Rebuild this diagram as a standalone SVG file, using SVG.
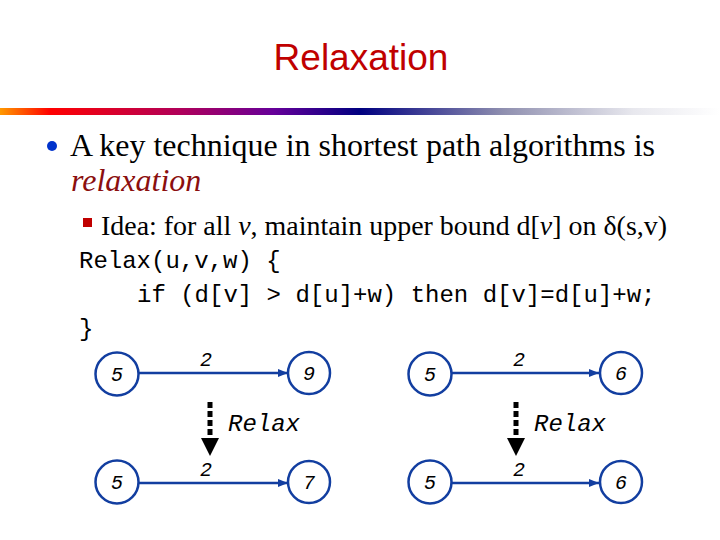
<svg xmlns="http://www.w3.org/2000/svg" width="720" height="540" viewBox="0 0 720 540">
<defs>
<linearGradient id="bar" x1="0" y1="0" x2="1" y2="0">
<stop offset="0" stop-color="#ff9900"/>
<stop offset="0.07" stop-color="#ff0000"/>
<stop offset="0.25" stop-color="#b0005a"/>
<stop offset="0.38" stop-color="#660099"/>
<stop offset="0.5" stop-color="#000080"/>
<stop offset="0.7" stop-color="#9090b0"/>
<stop offset="0.88" stop-color="#e8e8ee"/>
<stop offset="1" stop-color="#ffffff"/>
</linearGradient>
<marker id="ah" viewBox="0 0 10 10" refX="10" refY="5" markerWidth="4" markerHeight="4" orient="auto" markerUnits="strokeWidth">
<path d="M0,1 L10,5 L0,9 z" fill="#123ea0"/>
</marker>
</defs>
<style>
.node circle{fill:#fff;stroke:#123ea0;stroke-width:2.5}
.node text,.lbl{font-family:"Liberation Mono",monospace;font-style:italic;font-size:20px;fill:#000;text-anchor:middle}
.edge{stroke:#123ea0;stroke-width:2.5;fill:none;marker-end:url(#ah)}
.relax{font-family:"Liberation Mono",monospace;font-style:italic;font-size:24px;fill:#000}
.dash{stroke:#000;stroke-width:5;stroke-dasharray:6,3}
.code{font-family:"Liberation Mono",monospace;font-size:24px;fill:#000}
.tm{font-family:"Liberation Serif",serif;fill:#000}
</style>
<rect width="720" height="540" fill="#fff"/>
<text x="361" y="70" font-family="Liberation Sans,Arial,sans-serif" font-size="37" fill="#c00000" text-anchor="middle">Relaxation</text>
<rect x="0" y="108" width="720" height="7" fill="url(#bar)"/>
<circle cx="52" cy="146" r="5" fill="#0033cc"/>
<text class="tm" x="70" y="156" font-size="32" textLength="585" lengthAdjust="spacingAndGlyphs">A key technique in shortest path algorithms is</text>
<text class="tm" x="71" y="191" font-size="32" font-style="italic" style="fill:#8b0f0f">relaxation</text>
<rect x="83" y="218" width="9" height="9" fill="#c00000"/>
<text class="tm" x="101" y="235" font-size="28" textLength="566" lengthAdjust="spacingAndGlyphs">Idea: for all <tspan font-style="italic">v</tspan>, maintain upper bound d[<tspan font-style="italic">v</tspan>] on δ(s,v)</text>
<text class="code" x="79" y="268">Relax(u,v,w) {</text>
<text class="code" x="137" y="302">if (d[v] &gt; d[u]+w) then d[v]=d[u]+w;</text>
<text class="code" x="79" y="336">}</text>
<g id="connectors">
<line class="edge" x1="139" y1="373" x2="288" y2="373"/>
<line class="edge" x1="452" y1="373" x2="599" y2="373"/>
<line class="edge" x1="139" y1="483" x2="288" y2="483"/>
<line class="edge" x1="452" y1="483" x2="599" y2="483"/>
<text class="lbl" x="206" y="366">2</text>
<text class="lbl" x="519" y="366">2</text>
<text class="lbl" x="206" y="476">2</text>
<text class="lbl" x="519" y="476">2</text>
<line class="dash" x1="210" y1="402" x2="210" y2="438"/>
<path d="M201,438 L219,438 L210,456 z" fill="#000"/>
<text class="relax" x="228" y="431">Relax</text>
<line class="dash" x1="516" y1="402" x2="516" y2="438"/>
<path d="M507,438 L525,438 L516,456 z" fill="#000"/>
<text class="relax" x="534" y="431">Relax</text>
</g>
<g id="n1" class="node"><circle cx="117" cy="374" r="21.5"/><text x="117" y="381">5</text></g>
<g id="n2" class="node"><circle cx="309" cy="373" r="21"/><text x="309" y="380">9</text></g>
<g id="n3" class="node"><circle cx="430" cy="374" r="21.5"/><text x="430" y="381">5</text></g>
<g id="n4" class="node"><circle cx="621" cy="373" r="21"/><text x="621" y="380">6</text></g>
<g id="n5" class="node"><circle cx="117" cy="482" r="21.5"/><text x="117" y="489">5</text></g>
<g id="n6" class="node"><circle cx="309" cy="482" r="21"/><text x="309" y="489">7</text></g>
<g id="n7" class="node"><circle cx="430" cy="482" r="21.5"/><text x="430" y="489">5</text></g>
<g id="n8" class="node"><circle cx="621" cy="482" r="21"/><text x="621" y="489">6</text></g>
</svg>
